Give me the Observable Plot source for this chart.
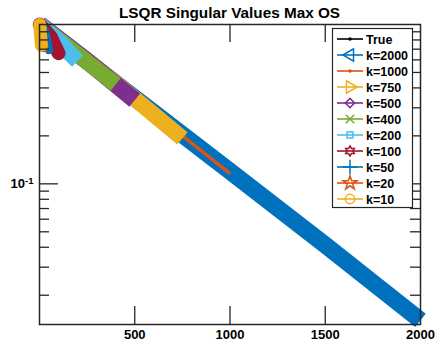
<!DOCTYPE html>
<html><head><meta charset="utf-8">
<script src="https://cdn.jsdelivr.net/npm/d3@7"></script>
<script src="https://cdn.jsdelivr.net/npm/@observablehq/plot@0.6"></script>
<style>
body{margin:0;background:#fff;}
#wrap{position:relative;width:437px;height:345px;font-family:"Liberation Sans",Arial,sans-serif;overflow:hidden;}
#title{position:absolute;left:39px;width:381px;top:4px;text-align:center;font-weight:bold;font-size:15.3px;line-height:18px;color:#000;}
#legend{position:absolute;left:0;top:0;pointer-events:none;}
</style></head><body>
<div id="wrap"><div id="chart"></div><div id="title">LSQR Singular Values Max OS</div><svg id="legend" width="437" height="345"></svg></div>
<script>
// ---- data ----
const seriesNames = ["True","k=2000","k=1000","k=750","k=500","k=400","k=200","k=100","k=50","k=20","k=10"];
const seriesColors = ["#000000","#0072BD","#D95319","#EDB120","#7E2F8E","#77AC30","#4DBEEE","#A2142F","#0072BD","#D95319","#EDB120"];
const seriesMarkers = ["dot","triangleLeft","dot","triangleRight","diamond","times","square","hexagram","plus","star","circle"];
const seriesBandWidths = [1, 17, 3.5, 16, 17, 16, 16, 14, 8, 10, 13];

const idxTrue  = [1, 500, 1000, 1500, 2000];
const valTrue  = [1.0, 0.346, 0.120, 0.0413, 0.0139];
const idxK2000 = [1, 500, 1000, 1500, 2000];
const valK2000 = [1.0, 0.346, 0.120, 0.0413, 0.0139];
const idxK1000 = [1, 500, 1000];
const valK1000 = [1.0, 0.346, 0.116];
const idxK750  = [1, 400, 750];
const valK750  = [1.0, 0.43, 0.193];
const idxK500  = [1, 250, 500];
const valK500  = [1.0, 0.59, 0.335];
const idxK400  = [1, 200, 400];
const valK400  = [1.0, 0.65, 0.42];
const idxK200  = [1, 58, 110, 163, 200];
const valK200  = [1.0, 0.87, 0.77, 0.65, 0.59];
const idxK100  = [1, 58, 100];
const valK100  = [1.0, 0.84, 0.66];
const idxK50   = [1, 30, 50];
const valK50   = [1.0, 0.92, 0.69];
const idxK20   = [1, 20];
const valK20   = [1.0, 0.72];
const idxK10   = [1, 10];
const valK10   = [1.0, 0.74];

const xTickValues = [500, 1000, 1500, 2000];
const yMajorTicks = [0.1];
const yMinorTicks = [0.02,0.03,0.04,0.05,0.06,0.07,0.08,0.09,0.2,0.3,0.4,0.5,0.6,0.7,0.8,0.9];

const seriesIdx = [idxTrue, idxK2000, idxK1000, idxK750, idxK500, idxK400, idxK200, idxK100, idxK50, idxK20, idxK10];
const seriesVal = [valTrue, valK2000, valK1000, valK750, valK500, valK400, valK200, valK100, valK50, valK20, valK10];

// ---- build chart ----
const W = 437, H = 345, mL = 39, mR = 17, mT = 24, mB = 21;
const fw = W - mL - mR, fh = H - mT - mB;
const axisColor = "#262626";

const lineMarks = seriesNames.map((name, s) => {
  const rows = seriesIdx[s].map((i, j) => ({i, v: seriesVal[s][j]}));
  return Plot.line(rows, {
    x: "i", y: "v", stroke: seriesColors[s], strokeWidth: seriesBandWidths[s],
    strokeLinecap: s >= 7 ? "round" : "butt", strokeLinejoin: "round"
  });
});

const chart = Plot.plot({
  width: W, height: H,
  marginLeft: mL, marginRight: mR, marginTop: mT, marginBottom: mB,
  style: {fontFamily: "'Liberation Sans', Arial, sans-serif", fontSize: "13px", fontWeight: "bold", color: "#000", background: "transparent"},
  x: {domain: [0, 2000], label: null},
  y: {type: "log", domain: [0.0131, 1.0], label: null},
  marks: [
    ...lineMarks,
    // inward ticks
    Plot.ruleX(xTickValues.slice(0, 3), {stroke: axisColor, strokeWidth: 1.3, insetTop: fh - 18}),
    Plot.ruleX(xTickValues.slice(0, 3), {stroke: axisColor, strokeWidth: 1.3, insetBottom: fh - 18}),
    Plot.ruleY(yMajorTicks, {stroke: axisColor, strokeWidth: 1.3, insetRight: fw - 19}),
    Plot.ruleY(yMajorTicks, {stroke: axisColor, strokeWidth: 1.3, insetLeft: fw - 19}),
    Plot.ruleY(yMinorTicks, {stroke: axisColor, strokeWidth: 1.3, insetRight: fw - 10}),
    Plot.ruleY(yMinorTicks, {stroke: axisColor, strokeWidth: 1.3, insetLeft: fw - 10}),
    Plot.frame({stroke: axisColor, strokeWidth: 1.5}),
    Plot.axisX({ticks: xTickValues, tickSize: 0, tickPadding: 5, tickFormat: d => String(d), label: null}),
    Plot.axisY({ticks: yMajorTicks, tickSize: 0, tickPadding: 6, tickFormat: () => "10-1", label: null, ariaLabel: "y-axis"})
  ]
});
document.getElementById("chart").appendChild(chart);

// superscript exponent on the y tick label
d3.select(chart).selectAll("g[aria-label='y-axis tick label'] text, g[aria-label='y-axis'] text").each(function() {
  const t = d3.select(this);
  if (t.text() !== "10-1") return;
  t.text(null);
  t.append("tspan").text("10");
  t.append("tspan").attr("dy", "-0.45em").attr("font-size", "9.5px").text("-1");
});

// ---- legend overlay ----
const hexagram = {draw(ctx, size) {
  const R = Math.sqrt(size) * 0.75, r = R * 0.58;
  for (let k = 0; k < 12; k++) {
    const a = -Math.PI / 2 + k * Math.PI / 6, rr = k % 2 ? r : R;
    k ? ctx.lineTo(rr * Math.cos(a), rr * Math.sin(a)) : ctx.moveTo(rr * Math.cos(a), rr * Math.sin(a));
  }
  ctx.closePath();
}};
const symbolFor = {
  triangleLeft: [d3.symbolTriangle, 65, -90],
  triangleRight: [d3.symbolTriangle, 65, 90],
  diamond: [d3.symbolSquare2, 55, 45],
  times: [d3.symbolTimes, 50, 0],
  square: [d3.symbolSquare2, 45, 0],
  hexagram: [hexagram, 45, 0],
  plus: [d3.symbolPlus, 70, 0],
  star: [d3.symbolStar, 60, 0],
  circle: [d3.symbolCircle, 70, 0]
};
const leg = d3.select("#legend");
const lx = 332.5, ly = 28.5, lw = 80, lh = 179, rowH = 16, row0 = 39;
leg.append("rect").attr("x", lx).attr("y", ly).attr("width", lw).attr("height", lh)
  .attr("fill", "#fff").attr("stroke", axisColor).attr("stroke-width", 1.2);
seriesNames.forEach((name, s) => {
  const y = row0 + rowH * s;
  const g = leg.append("g");
  g.append("line").attr("x1", 337).attr("x2", 363).attr("y1", y).attr("y2", y)
    .attr("stroke", seriesColors[s]).attr("stroke-width", 1.6);
  const m = seriesMarkers[s];
  if (m === "dot") {
    g.append("circle").attr("cx", 350).attr("cy", y).attr("r", 1.8).attr("fill", seriesColors[s]);
  } else {
    const [type, size, rot] = symbolFor[m];
    g.append("path").attr("d", d3.symbol(type, size)())
      .attr("transform", `translate(350,${y}) rotate(${rot})`)
      .attr("fill", "none").attr("stroke", seriesColors[s]).attr("stroke-width", 1.5);
  }
  g.append("text").attr("x", 366).attr("y", y + 4.5).text(name)
    .attr("font-family", "'Liberation Sans', Arial, sans-serif").attr("font-size", 12.5)
    .attr("font-weight", "bold").attr("fill", "#000");
});
</script>
</body></html>
